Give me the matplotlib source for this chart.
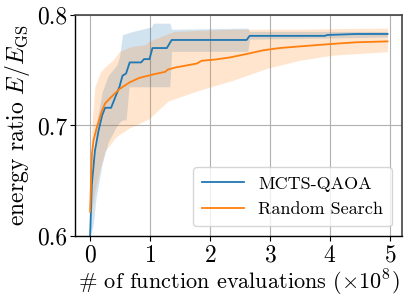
import numpy as np
import matplotlib
matplotlib.use('Agg')
import matplotlib.pyplot as plt

plt.rcParams['font.family'] = 'serif'
plt.rcParams['font.serif'] = ['cmr10']
plt.rcParams['mathtext.fontset'] = 'cm'
plt.rcParams['axes.formatter.use_mathtext'] = True

# MCTS-QAOA (x in units of 1e8 evaluations)
mcts_x = [0, 0.03, 0.08, 0.14, 0.2, 0.25, 0.35, 0.43, 0.49, 0.54, 0.6, 0.66, 0.85, 0.9, 0.99,
          1.04, 1.28, 1.36, 2.61, 2.66, 3.92, 3.95, 4.44, 4.96]
mcts_y = [0.6, 0.647, 0.677, 0.695, 0.709, 0.716, 0.716, 0.727, 0.735, 0.745, 0.747, 0.757, 0.757,
          0.760, 0.760, 0.770, 0.770, 0.7773, 0.7773, 0.781, 0.781, 0.7818, 0.7827, 0.7827]

mcts_band_x = [0, 0.05, 0.1, 0.2, 0.3, 0.45, 0.49, 0.54, 0.6, 0.65, 0.71, 1.02, 1.05, 1.33, 1.36,
               2.63, 2.66, 3.9, 4.96]
mcts_lo = [0.6, 0.61, 0.635, 0.665, 0.685, 0.70, 0.703, 0.705, 0.705, 0.735, 0.735, 0.735, 0.735,
           0.735, 0.767, 0.767, 0.778, 0.779, 0.780]
mcts_hi = [0.6, 0.66, 0.70, 0.73, 0.745, 0.755, 0.762, 0.782, 0.783, 0.784, 0.785, 0.789, 0.7925,
           0.7925, 0.787, 0.788, 0.785, 0.785, 0.785]

# Random Search
rand_x = [0, 0.03, 0.055, 0.11, 0.2, 0.25, 0.32, 0.49, 0.66, 0.82, 1.04, 1.25, 1.3, 1.42, 1.78,
          1.86, 2.1, 2.33, 2.6, 2.89, 3.16, 3.5, 4.0, 4.44, 4.96]
rand_y = [0.622, 0.674, 0.686, 0.698, 0.7136, 0.72, 0.724, 0.733, 0.739, 0.743, 0.746, 0.7485,
          0.7506, 0.7524, 0.756, 0.7585, 0.7597, 0.7615, 0.7645, 0.768, 0.770, 0.7715, 0.7736,
          0.7752, 0.776]

rand_band_x = [0, 0.03, 0.08, 0.17, 0.25, 0.38, 0.42, 0.49, 0.58, 0.66, 0.75, 0.92, 0.98, 1.3,
               1.4, 1.83, 2.39, 2.94, 3.5, 4.05, 4.96]
rand_lo = [0.62, 0.625, 0.641, 0.662, 0.677, 0.686, 0.689, 0.692, 0.695, 0.698, 0.70, 0.7045,
           0.706, 0.722, 0.724, 0.732, 0.741, 0.7515, 0.759, 0.7636, 0.7667]
rand_hi = [0.64, 0.70, 0.735, 0.748, 0.753, 0.759, 0.762, 0.767, 0.769, 0.771, 0.772, 0.773,
           0.776, 0.783, 0.785, 0.786, 0.787, 0.787, 0.787, 0.7875, 0.788]

fig = plt.figure(figsize=(4.06, 2.97), dpi=100)
ax = fig.add_axes([0.185, 0.205, 0.805, 0.745])

ax.grid(True, color='#b0b0b0', linewidth=0.8)
ax.set_axisbelow(True)

ax.fill_between(mcts_band_x, mcts_lo, mcts_hi, color='#1f77b4', alpha=0.2, linewidth=0)
ax.fill_between(rand_band_x, rand_lo, rand_hi, color='#ff7f0e', alpha=0.2, linewidth=0)
ax.plot(mcts_x, mcts_y, color='#1f77b4', linewidth=1.3, label='MCTS-QAOA')
ax.plot(rand_x, rand_y, color='#ff7f0e', linewidth=1.3, label='Random Search')

ax.set_xlim(-0.25, 5.2)
ax.set_ylim(0.6, 0.8)
ax.set_xticks([0, 1, 2, 3, 4, 5])
ax.set_yticks([0.6, 0.7, 0.8])
ax.set_yticklabels(['0.6', '0.7', '0.8'])
ax.tick_params(labelsize=17, length=3.5, width=0.8, direction='out', pad=2.5)

for s in ['left', 'bottom']:
    ax.spines[s].set_color('black')
    ax.spines[s].set_linewidth(1.0)
for s in ['top', 'right']:
    ax.spines[s].set_color('#444444')
    ax.spines[s].set_linewidth(1.2)

ax.set_xlabel(r'# of function evaluations ($\times 10^8$)', fontsize=16, labelpad=1)
ax.set_ylabel(r'energy ratio $E/E_{\mathrm{GS}}$', fontsize=17, labelpad=3)

ax.legend(loc='lower right', fontsize=13, framealpha=0.8, edgecolor='#cccccc',
          handlelength=2.3, borderaxespad=0.55, labelspacing=0.55, borderpad=0.5,
          handletextpad=0.8)

fig.savefig('out.png', dpi=100)
